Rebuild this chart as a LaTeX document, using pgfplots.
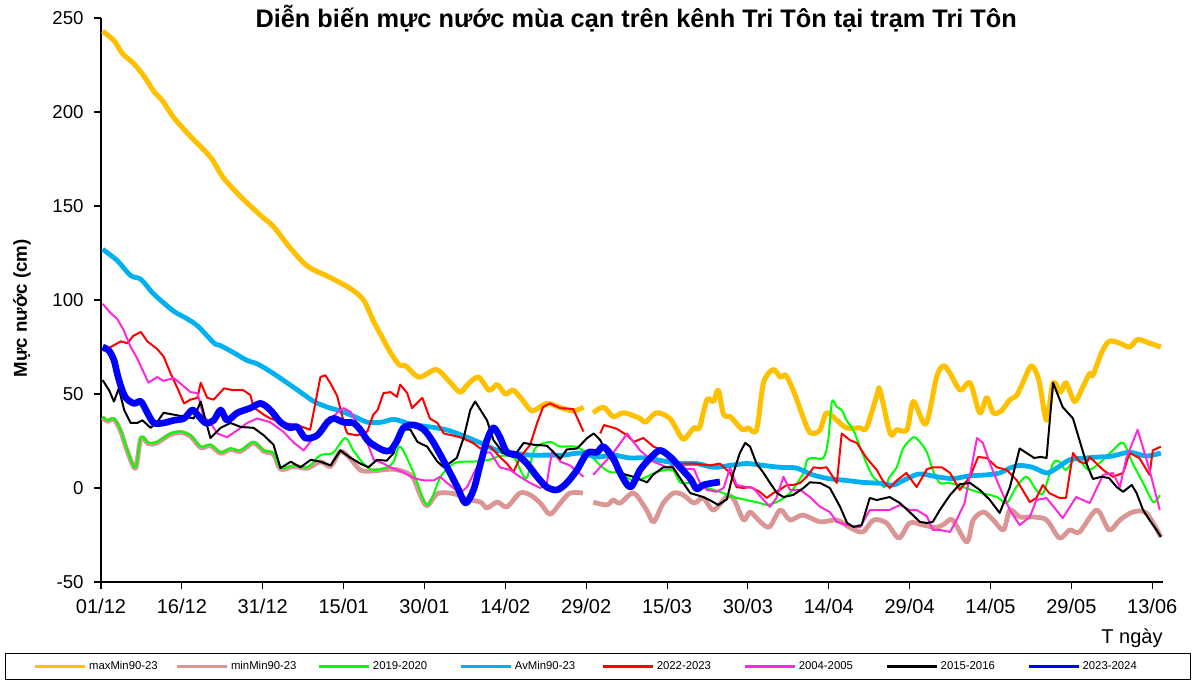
\documentclass[border=0pt]{standalone}
\usepackage{fontspec}
\setmainfont{Liberation Sans}
\usepackage{pgfplots}
\pgfplotsset{compat=1.18}
\definecolor{cMax}{RGB}{255,192,0}
\definecolor{cMin}{RGB}{217,150,148}
\definecolor{cA}{RGB}{0,255,0}
\definecolor{cAv}{RGB}{0,176,240}
\definecolor{cB}{RGB}{255,0,0}
\definecolor{cC}{RGB}{255,40,220}
\definecolor{cD}{RGB}{0,0,0}
\definecolor{cE}{RGB}{0,0,255}

\begin{document}
\begin{tikzpicture}
\path[use as bounding box, clip] (0,0) rectangle (896.25pt,509.25pt);
\begin{axis}[
  at={(75.75pt,72.75pt)}, anchor=south west,
  width=796.5pt, height=423pt, scale only axis,
  xmin=0, xmax=197, ymin=-50, ymax=250,
  axis lines*=left,
  axis line style={line width=0.9pt},
  tick align=outside, major tick length=5pt,
  tick style={black, line width=0.8pt},
  xtick={0,15,...,195},
  xticklabels={01/12,16/12,31/12,15/01,30/01,14/02,29/02,15/03,30/03,14/04,29/04,14/05,29/05,13/06},
  ytick={-50,0,...,250},
  /pgf/number format/assume math mode=true,
  xticklabel style={font=\fontsize{15}{17}\selectfont, yshift=-4.5pt},
  yticklabel style={font=\fontsize{14}{16}\selectfont, xshift=-4.5pt},
  title={Diễn biến mực nước mùa cạn trên kênh Tri Tôn tại trạm Tri Tôn},
  title style={at={(0.504,0.9817)}, anchor=base, yshift=-5.5pt, font=\bfseries\fontsize{19}{22}\selectfont},
  ylabel={Mực nước (cm)},
  ylabel style={at={(-0.0744,0.485)}, anchor=center, font=\bfseries\fontsize{14}{16}\selectfont},
  xlabel={T ngày},
  xlabel style={at={(1.004,-0.0995)}, anchor=east, font=\fontsize{15}{17}\selectfont},
  legend columns=8, legend cell align=left,
  legend image code/.code={\draw[#1, line width=2.2pt] (0pt,0pt) -- (37.5pt,0pt);},
  legend style={at={(-0.0904,-0.1259)}, anchor=north west, draw=black, line width=0.75pt,
    inner xsep=21pt, inner ysep=4pt, font=\fontsize{8.5}{10}\selectfont,
    /tikz/every even column/.append style={column sep=4.75pt}},
  every axis plot/.append style={line join=round},
]
% maxMin90-23
\addplot[cMax, line width=3.8pt, smooth] coordinates {
(0.3,243) (2.4,238) (4,231) (6,226) (8,219) (9.8,211) (11.4,206) (13.5,197) (16.6,187) (20.3,176)
(22.7,165) (25.9,155) (29.6,145) (32,139) (35,128) (38.3,118) (42.5,112) (46.3,106) (48.7,100)
(50.5,89) (52,81) (53.5,73) (55.3,65.5) (56.5,65) (59,59) (62.2,63) (64.5,57) (66.6,51) (68,55)
(70,59) (72,52) (73.5,55) (75,50) (76.5,52) (78.4,46) (80,41) (82.7,45) (85,43) (87.6,41) (89.5,43)};
\addlegendentry{\makebox[58pt][l]{maxMin90-23}}
\addplot[cMax, line width=3.8pt, smooth, forget plot] coordinates {
(91.3,40) (93.2,43) (95,38) (97,40) (100,37) (101,35) (103,40) (105.5,37) (107.4,28) (108.2,26)
(110,32) (111,32) (112.4,47) (113.6,46) (114.5,52) (115.5,39) (116.7,38) (119,31) (120,32) (121.6,31)
(122.9,56) (124.7,63) (126,59) (127,60) (128.4,52) (131,32) (132,29) (133.4,31) (134.6,40) (136.5,36)
(138.3,32) (140.8,32) (142,32) (144,50) (144.5,52) (146.4,29) (147.6,31) (149.5,31) (150.7,46) (153,34)
(155,59) (156.3,65) (157.5,61) (159.4,52) (161.2,56) (163,40) (164.3,48) (165.5,40) (167,41) (168.6,47)
(169.8,49) (171,56) (172.6,65) (174,57) (175.4,36) (176.6,56) (178,51) (179,56) (180.6,46) (182,53)
(183.4,61) (184,60) (185.6,72) (187,78) (189,77) (190.8,75) (192.3,79) (194.5,77) (196.6,75)};
% minMin90-23
\addplot[cMin, line width=3.6pt, smooth] coordinates {
(0.3,37.5) (1.2,35.5) (2.4,36.5) (3.6,30.5) (4.9,19.5) (6.4,10.5) (7.4,26.5) (8.8,23.5) (10.4,24)
(12.9,28.5) (14.8,29.5) (16.6,27.5) (18.5,21.5) (20.3,22.5) (22.2,18.5) (24,20.5) (25.9,19.5) (28.3,24)
(30.2,19.5) (32,18) (33.3,10) (35.8,11.5) (38.3,10.5) (40.7,14) (42.6,11.5) (44.4,19.5) (46.3,15.5)
(48.1,9.5) (50,9) (51.8,9.5) (54.3,10) (56.8,8) (58,5) (59.2,-3.7) (60.5,-9.5) (62.4,-3) (65.4,-3)
(68,-6) (70.4,-7.5) (71.6,-10.6) (73.5,-7.5) (75.3,-10) (77.7,-2.7) (79.6,-3.7) (81.5,-8) (83.3,-14)
(85.2,-8) (87,-2.7) (89.4,-2.7)};
\addlegendentry{\makebox[58pt][l]{minMin90-23}}
\addplot[cMin, line width=3.6pt, smooth, forget plot] coordinates {
(91.3,-7.5) (93.8,-9) (95,-6.4) (96.3,-8) (98.8,-2.7) (101.2,-11.7) (102.5,-18) (104.3,-8) (106.2,-2.7)
(108,-3.7) (110,-8) (111.7,-5.3) (113.6,-11.7) (116,-4.8) (117.3,-5.5) (119.2,-17) (120.4,-12.8)
(122.3,-18) (124,-20.7) (126,-11.7) (127.8,-17) (130.2,-14.4) (133.4,-18) (136.5,-17) (138.9,-21)
(141.3,-23.4) (143.3,-17) (145.7,-18.6) (148,-26.6) (150,-18.6) (152.5,-19.7) (155,-21) (156.5,-19)
(158,-17) (160.6,-28.7) (161.8,-17) (163.7,-12.8) (165.5,-17) (167.4,-22.3) (168.6,-11.7) (170.4,-15.4)
(172.8,-15.4) (175.4,-17) (177.8,-26.6) (179.7,-22.3) (181.5,-23.4) (184.7,-11.7) (187,-22.3) (189,-17)
(191.4,-12.8) (193.9,-13.3) (196.6,-26)};
% 2019-2020
\addplot[cA, line width=1.5pt, smooth] coordinates {
(0.3,38) (1.2,36) (2.4,37) (3.6,31) (4.9,20) (6.4,11) (7.4,27) (8.8,24) (10.4,24.5) (12.9,29) (14.8,30)
(16.6,28) (18.5,22) (20.3,23) (22.2,19) (24,21) (25.9,20) (28.3,24.5) (30.2,20) (32,18.6) (33.3,10.6)
(35.8,12) (38.3,11) (40.7,17.5) (43,18.6) (45.3,26.6) (46.8,20) (48.7,13) (50.5,9.6) (53,11) (54.3,14)
(55.5,22) (58,8) (60.5,-9) (63,6) (65.4,13) (67.3,14) (69,14) (72,15) (74,17) (76.5,16.5) (77.8,9.6)
(79,5.3) (80.5,21) (83.3,24.5) (85.2,22) (88,22) (90.7,17.5) (92.6,12) (94.4,8.5) (96.3,8) (98.7,4)
(101.3,6) (103,8.5) (106,9.6) (107.4,3) (109,2.7) (111,0.5) (112.4,0) (114.8,-2) (117.3,-4.8)
(119.8,-6.4) (122.3,-8) (123.5,-9) (125.3,-7.5) (127.8,-2.7) (130.3,8) (131,15) (132.2,16) (134,16)
(134.9,25.5) (135.6,46) (136.5,43) (137.4,41.5) (138.3,36) (139.5,31) (140.8,22) (142,13) (143.2,6)
(144.5,2.7) (145.4,0.5) (146.3,6) (147.6,11) (148.8,21) (150.7,27) (151.9,24.5) (153.2,19) (154.3,9.6)
(155.6,2.7) (157.5,2.7) (159.9,0.5) (162.5,-2) (166.2,-4.8) (168,-8) (169.8,0.5) (171.7,6) (173.5,-1)
(174.8,-2.7) (176.6,13) (177.8,14) (179,9.6) (180.9,16.5) (182,13) (183.4,9.6) (185.9,15) (187.7,20)
(189.6,24) (191.4,13) (193.3,2.7) (195.2,-7.5) (196.4,-3.7)};
\addlegendentry{\makebox[58pt][l]{2019-2020}}
% AvMin90-23
\addplot[cAv, line width=3.6pt, smooth] coordinates {
(0.3,127) (3,121) (5.5,113) (7.4,111) (9.5,104) (11,100) (13.5,94) (16,90) (18,86) (21,77) (22,76)
(24.6,72) (27,68) (29,66) (31.4,62) (34.5,56) (37,51) (39.5,46) (42,43) (44.4,41) (47,38) (49.4,35)
(52,35) (54.4,36.5) (57.4,34) (61,32.5) (64,31) (67,28) (70.4,24) (73.5,20) (76.5,18.6) (79.6,17.5)
(82.7,17.5) (85.8,17.5) (88.9,18.6) (92,16.5) (95,17.5) (98,16) (101,16) (105,14) (107.4,13) (110.5,13)
(113.6,11) (116.7,12) (119.8,13) (122.9,12) (126,11) (129,10.6) (132,7) (135,5) (138.3,4) (141.3,3)
(144.5,2.5) (147,1.6) (149.5,5) (151.9,7.5) (155,6) (158,5) (161,6.4) (164.3,7) (166.7,8) (168.6,10.6)
(170.4,12) (172.8,11) (175.4,8) (177.3,10.6) (179.7,15) (182.8,16) (185.2,16.5) (187.6,17) (190.8,19)
(193.9,17) (196.6,18.6)};
\addlegendentry{\makebox[58pt][l]{AvMin90-23}}
% 2022-2023
\addplot[cB, line width=1.5pt] coordinates {
(0.3,73) (1.8,75) (3.7,78) (4.9,77) (6,81) (7.4,83) (8.6,78) (10.4,74) (11.6,70) (12.9,61) (14.2,53)
(15.4,45) (16.6,47) (17.9,48) (18.5,56) (19.7,48) (20.9,47) (22.8,53) (24.6,52) (26.4,52) (27.7,49.5)
(28.3,43) (30.2,39) (31.4,37) (33.8,34.6) (36.4,33.5) (38.8,31) (40.7,59) (41.6,60) (42.5,56) (43.8,49)
(45.3,32) (45.7,29) (47.5,28) (49.4,30) (50.5,39) (51.3,41.5) (52.4,50.5) (53.7,51) (54.9,48.5)
(55.5,55) (56.8,50.5) (57.7,42.5) (59.6,48) (61,37) (62.4,34.6) (63.6,29) (66.6,27) (69,24) (70.4,21)
(72.2,22) (74,16.5) (75.3,13) (76.5,8.5) (77.8,16.5) (79.6,23) (80.9,34.6) (82,43) (83.3,45) (85.2,42.5)
(87.6,42) (89.5,30)};
\addlegendentry{\makebox[58pt][l]{2022-2023}}
\addplot[cB, line width=1.5pt, forget plot] coordinates {
(92.6,29) (93.3,33.5) (95.7,31.5) (97.6,28) (98.8,24.5) (100.6,26.6) (102.5,22) (104.3,20) (105.6,15)
(107.4,13) (109.9,13) (112.9,12) (114.8,13) (116.7,8) (117.9,0.5) (119.1,0) (120.4,0.5) (122.2,-2)
(123.5,-5.3) (124.7,-2.7) (125.9,-1) (127.2,1.6) (128.4,1.6) (129.7,2.7) (130.9,6) (132.2,11)
(133.4,10.6) (134.6,11) (136.5,2.7) (137.4,29) (138.9,25.5) (140.2,24) (142,16) (143.9,9.6) (145,4)
(146.3,0) (147.6,4) (149.4,8) (151.3,0.5) (153.2,10) (154.3,11) (156,11) (157.5,8) (159.3,-1) (161.2,6)
(162.7,16.5) (164.3,16) (166.2,11) (168,9.6) (169.9,4) (172.3,-7.5) (173.5,-5.3) (174.7,1.6)
(175.9,-2.7) (177.8,-5.3) (179,-5.3) (180.3,18.6) (181.5,14) (182.8,13) (183.4,16.5) (185.9,9.6)
(187.7,6) (189.6,8) (190.8,18.6) (192.6,16) (194.5,7) (195.1,20) (196.6,22)};
% 2004-2005
\addplot[cC, line width=1.5pt] coordinates {
(0.3,98) (1.8,93) (3,90) (4.2,84) (5.5,75) (6.7,69) (8,61) (8.8,56) (10.4,59) (11.6,57) (13.5,58.5)
(15.4,54) (16.6,51) (17.9,50.5) (19,38) (20.3,34.6) (21.6,29) (23.4,27) (25.9,32) (27.1,34.6) (29,37)
(31.4,35) (33.8,30) (35.8,24) (37.6,20) (38.8,24.5) (42,34.6) (43.8,40) (45,42.5) (46.3,40.5)
(47.5,34.6) (49.4,24) (50.6,15) (52.4,13) (53.7,11) (56,8.5) (58,5.3) (59.9,4) (61.7,4) (62.9,6)
(64.2,2.7) (66.6,-2.7) (67.9,0.5) (69.7,11) (70.9,18.6) (72.2,19) (74,11) (75.9,9.6) (77.7,6) (79.6,2.7)
(81.5,0) (82.7,2.7) (83.7,20) (85.2,14) (87,12) (89.5,6)};
\addlegendentry{\makebox[58pt][l]{2004-2005}}
\addplot[cC, line width=1.5pt, forget plot] coordinates {
(91.3,7) (93.2,13) (95,18.6) (97.6,29) (100,20) (102.5,14) (105,11) (107.4,13) (108.5,10) (110,10)
(111.1,2.7) (112.4,-1) (114.2,-2) (115.5,0) (116.7,11) (117.9,1.6) (119.8,0.5) (121,0) (122.9,-6.4)
(124.1,-10) (125.3,-5.3) (126.6,6) (127.8,-1) (129.7,-1) (131.5,-4.8) (133.4,-10) (135.2,-12.8)
(136.5,-18) (138.3,-19.7) (140.8,-21) (142.6,-11.7) (144.5,-11.7) (146.3,-11.7) (148.2,-9) (150,-11.7)
(151.3,-11.7) (153.2,-15) (154.3,-22.3) (155.6,-22.3) (157.5,-23.4) (158.7,-17) (160.2,-8) (162.5,26.6)
(163.6,24) (164.9,13) (166.7,0.5) (168.6,-11.7) (170.4,-19.7) (172.3,-15.4) (173.5,-6.4) (175.4,-5.3)
(178.4,-16) (180.9,-4.8) (183.4,-8) (185.9,7) (187.7,8) (189,0.5) (190.2,16) (192.3,31) (194.5,9.6)
(196.4,-11.7)};
% 2015-2016
\addplot[cD, line width=1.5pt] coordinates {
(0.3,57.4) (1.5,52) (2.4,46) (3.3,53) (4.3,41.5) (5.5,34.6) (6.7,34.6) (7.7,36) (9.2,32) (10.4,35)
(11.6,40) (13.5,39) (15.4,38) (17.2,37) (18.5,46) (19.4,36) (20.3,26.6) (22.2,32) (24,34.6) (25.9,32.5)
(28.3,32) (30.2,28) (32,23) (33.3,10.6) (35.2,14) (37,11) (38.9,15) (40.7,14) (42.6,12) (44.4,20)
(46.3,16) (48.1,13) (49.6,11) (51.2,15) (53,14.5) (54.3,18.6) (55.5,31) (57.4,31) (58.7,24.5) (60.5,22)
(62.4,14) (63.6,11) (66,16) (67.3,27) (68.5,41.5) (69.4,46) (70.4,41.5) (71.6,36) (72.8,25.5)
(74.6,18.6) (76.5,16.5) (78.4,24) (80.3,23) (82.7,22.5) (85.2,15.5) (86.4,20.5) (88.3,21) (90.2,26.6)
(91.4,29) (92.6,25.5) (93.8,18.6) (96.3,8) (98.7,6) (101.3,3) (102.4,7) (104.3,11) (106.1,11) (108,2.7)
(109.3,-2.7) (111.7,-4.8) (112.9,-6.4) (114.5,-9) (116.1,-6) (117.3,8) (118.5,18.6) (119.5,24)
(120.4,22) (121.6,13) (122.9,8) (124.1,2.7) (125.4,-2.7) (126.6,-4.8) (128.4,-3.7) (130.3,0) (131.5,3)
(133.4,2.7) (135.2,0) (137.1,-10) (138.4,-18.6) (139.6,-20.7) (141.1,-19.7) (142.6,-5.3) (143.9,-6.4)
(146.3,-4.8) (148.2,-8) (150,-12.8) (151.9,-18) (153.2,-18.6) (154.3,-18) (155.6,-11.7) (157.5,-3.7)
(159.3,2) (161.2,2.7) (163,-1) (164.9,-6.4) (166.7,-13.3) (168.6,0.5) (170.4,21) (171.7,18.6) (173.1,16)
(174.3,16.5) (175.4,16) (176.6,56) (178.4,43) (180.3,37) (181.5,25.5) (182.8,13) (184,4.8) (185.6,6)
(187,5.3) (188.4,0.5) (189.6,-2) (191.2,1.6) (192.1,-2.7) (193.3,-11.7) (194.5,-17) (195.8,-22.3)
(196.6,-26)};
\addlegendentry{\makebox[58pt][l]{2015-2016}}
% 2023-2024
\addplot[cE, line width=5pt, smooth] coordinates {
(0.3,75) (1.5,73) (2.4,68) (3,61) (3.7,54) (4.6,48) (6.1,45) (7.4,46) (8.6,40) (9.8,34.6) (11.6,34.6)
(13.5,36) (15.4,37) (16.9,41.5) (17.9,39) (19.4,34.6) (20.9,36) (22.2,41.5) (23.4,36) (25.3,40)
(27.7,42.5) (29.6,45) (31.4,41.5) (33.3,35) (35.1,32) (36.4,32.5) (37.9,26.6) (40.1,28) (42,35)
(43.2,37) (45,35) (46.8,34.6) (48.1,31) (49.4,25.5) (50.5,23) (52.4,20) (53.7,20) (54.9,25) (56.1,32)
(58,33.5) (59.9,31) (61.7,24) (64.2,11) (66.1,0.5) (67.6,-8) (69.1,-1) (70.4,13) (71.6,25.5) (72.8,32)
(74,27) (75.3,19) (77.2,17.5) (79,13) (80.9,6) (82.7,0.5) (84.6,-1) (86.4,2.7) (88.3,9.6) (90.2,18.6)
(92,19) (93.2,22) (95,16) (96.3,8) (98.2,0.5) (100,9.6) (101.9,16) (103.7,20) (105.6,16.5) (107.4,11)
(109.3,5) (110.5,-0.5) (111.7,1.6) (113.6,2.7) (114.8,3.2)};
\addlegendentry{\makebox[58pt][l]{2023-2024}}
\end{axis}
\end{tikzpicture}
\end{document}
